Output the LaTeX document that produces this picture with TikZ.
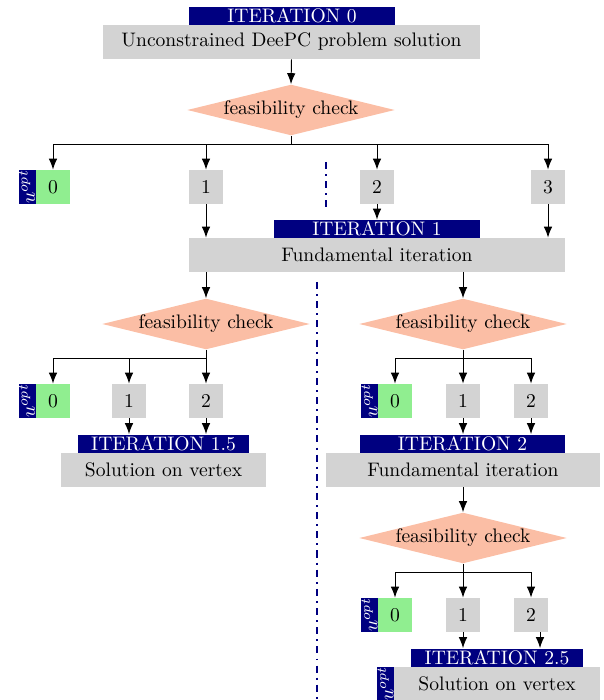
\documentclass[tikz,border=0pt]{standalone}
\usepackage{graphicx}
\usetikzlibrary{shapes.geometric,arrows.meta}
\definecolor{navyc}{RGB}{0,0,128}
\definecolor{greyc}{RGB}{211,211,211}
\definecolor{greenc}{RGB}{144,238,144}
\definecolor{salmonc}{RGB}{251,190,165}
\newcommand\pxu{0.511pt}
\newcommand\uoptlab{\rotatebox{90}{$u^{opt}$}}
\begin{document}
\begin{tikzpicture}[x=0.511pt,y=-0.511pt,
  itlabel/.style={fill=navyc,text=white,inner sep=0pt,minimum width=#1*\pxu,minimum height=18*\pxu},
  gbox/.style={fill=greyc,inner sep=0pt,minimum width=#1*\pxu,minimum height=34*\pxu},
  sq/.style={fill=greyc,inner sep=0pt,minimum size=34*\pxu},
  gsq/.style={fill=greenc,inner sep=0pt,minimum size=34*\pxu},
  ulab/.style={fill=navyc,text=white,inner sep=0pt,minimum width=17*\pxu,minimum height=34*\pxu},
  dia/.style={diamond,fill=salmonc,inner sep=0pt,aspect=4.08},
  arr/.style={-{Latex[length=5.6pt,width=4.4pt]},line width=0.5pt},
  ln/.style={line width=0.5pt},
  sepline/.style={navyc,line width=1pt,dash pattern=on 3.6pt off 2.6pt on 1pt off 2.6pt}]
\useasboundingbox (0,0) rectangle (603,700);

% iteration 0
\node[itlabel=206] (it0) at (292,16) {ITERATION 0};
\node[gbox=377] (prob0) at (291.5,42) {Unconstrained DeePC problem solution};
\node[dia] (d0) at (291,110) {feasibility check};
\draw[arr] (prob0.south) -- (d0.north);
\node[ulab] (u00) at (27,187) {\uoptlab};
\node[gsq] (n00) at (53,187) {0};
\node[sq] (n01) at (206,187) {1};
\node[sq] (n02) at (377,187) {2};
\node[sq] (n03) at (548,187) {3};
\coordinate (b0) at (291,144);
\draw[ln] (d0.south) -- (b0);
\draw[arr] (b0) -| (n00.north);
\draw[arr] (b0) -| (n01.north);
\draw[arr] (b0) -| (n02.north);
\draw[arr] (b0) -| (n03.north);
\coordinate (s1a) at (326,162);
\coordinate (s1b) at (326,207);
\draw[sepline] (s1a) -- (s1b);

% iteration 1
\node[itlabel=206] (it1) at (377,229) {ITERATION 1};
\node[gbox=376] (fund1) at (377,255) {Fundamental iteration};
\draw[arr] (n01.south) -- (n01.south |- fund1.north);
\draw[arr] (n02.south) -- (it1.north);
\draw[arr] (n03.south) -- (n03.south |- fund1.north);
\node[dia] (d1l) at (206,324) {feasibility check};
\node[dia] (d1r) at (463,324) {feasibility check};
\draw[arr] (d1l.north |- fund1.south) -- (d1l.north);
\draw[arr] (d1r.north |- fund1.south) -- (d1r.north);
\coordinate (s2a) at (317,282);
\coordinate (s2b) at (317,700);
\draw[sepline] (s2a) -- (s2b);

% left branch
\node[ulab] (u10) at (27,401) {\uoptlab};
\node[gsq] (n10) at (53,401) {0};
\node[sq] (n11) at (129,401) {1};
\node[sq] (n12) at (206,401) {2};
\coordinate (b1l) at (206,358);
\draw[ln] (d1l.south) -- (b1l);
\draw[arr] (b1l) -| (n10.north);
\draw[arr] (b1l) -| (n11.north);
\draw[arr] (b1l) -- (n12.north);
\node[itlabel=171] (it15) at (163.5,443.5) {ITERATION 1.5};
\node[gbox=205] (sol15) at (163.5,469.5) {Solution on vertex};
\draw[arr] (n11.south) -- (n11.south |- it15.north);
\draw[arr] (n12.south) -- (n12.south |- it15.north);

% right branch
\node[ulab] (u20) at (369.5,401) {\uoptlab};
\node[gsq] (n20) at (395,401) {0};
\node[sq] (n21) at (463,401) {1};
\node[sq] (n22) at (531,401) {2};
\coordinate (b1r) at (463,358);
\draw[ln] (d1r.south) -- (b1r);
\draw[arr] (b1r) -| (n20.north);
\draw[arr] (b1r) -- (n21.north);
\draw[arr] (b1r) -| (n22.north);
\node[itlabel=205] (it2) at (462.5,443.5) {ITERATION 2};
\node[gbox=274] (fund2) at (463,469.5) {Fundamental iteration};
\draw[arr] (n21.south) -- (n21.south |- it2.north);
\draw[arr] (n22.south) -- (n22.south |- it2.north);
\node[dia] (d2) at (463,538) {feasibility check};
\draw[arr] (fund2.south) -- (d2.north);

\node[ulab] (u30) at (369.5,615) {\uoptlab};
\node[gsq] (n30) at (395,615) {0};
\node[sq] (n31) at (463,615) {1};
\node[sq] (n32) at (531,615) {2};
\coordinate (b2) at (463,572);
\draw[ln] (d2.south) -- (b2);
\draw[arr] (b2) -| (n30.north);
\draw[arr] (b2) -- (n31.north);
\draw[arr] (b2) -| (n32.north);
\node[itlabel=172] (it25) at (497,657.5) {ITERATION 2.5};
\node[gbox=206] (sol25) at (497,683.5) {Solution on vertex};
\node[ulab] (u25) at (385.5,683.5) {\uoptlab};
\draw[arr] (n31.south) -- (n31.south |- it25.north);
\draw[arr] ([xshift=9*\pxu]n32.south) -- ([xshift=9*\pxu]n32.south |- it25.north);
\end{tikzpicture}
\end{document}
